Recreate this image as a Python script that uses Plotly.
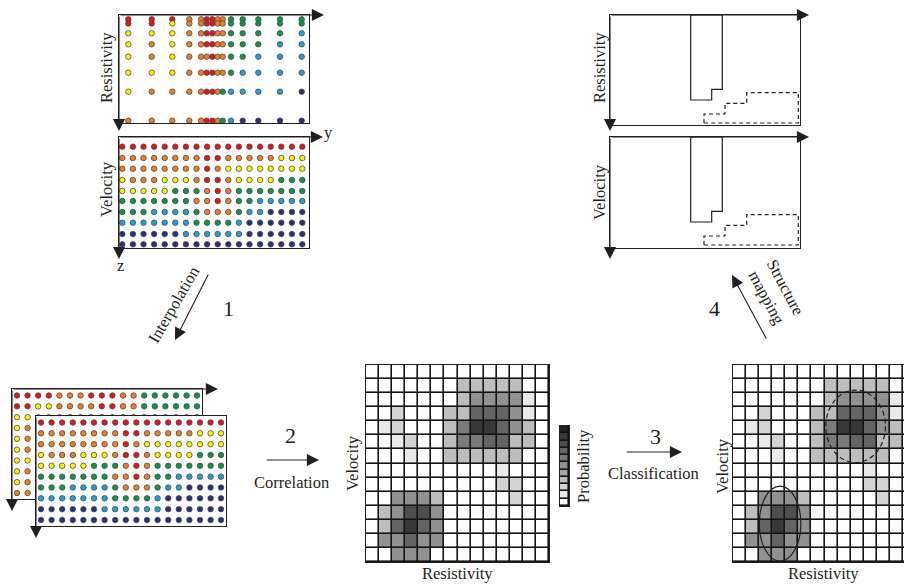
import plotly.graph_objects as go

W, H = 904, 584

# ---------------- data ----------------
CLASS_COLORS = {'R': '#e3141c', 'O': '#f07e1f', 'Y': '#fff200',
                'G': '#0d9648', 'B': '#1ea0dc', 'N': '#2b2d80'}

# resistivity soundings: horizontal position (y) and depth (z) of samples
res_sample_pos = [0.93, 3.27, 5.33, 7.03, 8.2, 8.77, 9.33, 9.87, 10.37, 11.2, 12.37, 13.93, 16.1, 18.27]
res_sample_depth = [0.43, 0.85, 1.83, 2.93, 4.17, 5.77, 7.67, 10.57]
res_classes = [
    "RRROORROOGGGGG",
    "RRYOORROOGGGGG",
    "YYYOORROOGGGGB",
    "YOYOORROOGGGBB",
    "YOYOOOROOGGBBB",
    "YYYOORROOGBBBB",
    "YOOOORROGBBBBN",
    "OOOOORROGBNNNN",
]

# velocity model grid
vel_grid_pos = [0.33, 1.39, 2.45, 3.51, 4.57, 5.63, 6.69, 7.75, 8.81,
                9.87, 10.93, 11.99, 13.05, 14.11, 15.17, 16.23, 17.29, 18.33]
vel_grid_depth = [0.97, 2.1, 3.17, 4.3, 5.4, 6.4, 7.5, 8.57, 9.7, 10.73]
vel_classes = [
    "RRRRRRRRRRRRRRRRRR",
    "OOOOOOOORROOOOOYYY",
    "OOOOOOOOROYYYYYYYY",
    "YOOOYYYORROYYYYGGG",
    "YYYYYGGGOROGGGGGGG",
    "GGGGGGGOOROGGBBBBB",
    "GGGBBBBGOOOGBBNNNN",
    "BBBBBBBGGGGBNNNNNN",
    "NNNNNNBBBBBBNNNNNN",
    "NNNNNNNNNNNNNNNNNN",
]
# resistivity interpolated onto the velocity grid
interp_depth = [1.0, 2.08, 3.17, 4.25, 5.33, 6.42, 7.5, 8.58, 9.67, 10.75]
res_interp_classes = [
    "RRRROOORRROOGGGGGG",
    "RRYYOOOORROOGGGGGG",
    "YYYYOOOORROOGGGGGB",
    "YOYOOOORRROOGGGBBB",
    "YOYOOOOORROOGGBBBB",
    "YOYOOOORRROOGBBBBB",
    "YYYOOOORRROGBBBBBB",
    "YOOOOOORRRGBBBBBBN",
    "YOOOOOORRGGBBBNNNN",
    "OOOOOOORRGBBNNNNNN",
]

# joint probability (rows: velocity bins top->bottom, cols: resistivity bins)
res_bins = list(range(14))
vel_bins = list(range(14))
prob_matrix = [
    [0, 0, 0, 0, 0, 0, 0, 0, 0, 0, 0, 0, 0, 0],
    [0, 0, 0, 0, 0, 0, 0, 3, 3, 3, 3, 3, 0, 0],
    [0, 0, 0, 0, 0, 0, 0, 3, 5, 5, 5, 5, 1, 0],
    [0, 0, 2, 0, 0, 0, 3, 3, 7, 7, 7, 5, 1, 0],
    [0, 1, 2, 0, 0, 0, 3, 6, 9, 9, 7, 5, 3, 0],
    [0, 0, 1, 2, 0, 0, 3, 6, 6, 7, 7, 3, 3, 0],
    [0, 0, 0, 1, 0, 0, 3, 3, 3, 3, 3, 3, 0, 0],
    [0, 0, 0, 0, 0, 0, 0, 0, 0, 0, 1, 0, 0, 0],
    [0, 0, 0, 0, 0, 0, 0, 0, 0, 0, 2, 2, 0, 0],
    [0, 0, 5, 5, 5, 3, 0, 0, 0, 0, 0, 2, 0, 0],
    [0, 3, 5, 8, 8, 5, 0, 0, 0, 0, 0, 0, 0, 0],
    [0, 3, 7, 9, 7, 5, 0, 0, 0, 0, 0, 0, 0, 0],
    [0, 5, 5, 7, 5, 5, 0, 0, 0, 0, 0, 0, 0, 0],
    [0, 0, 5, 5, 5, 0, 0, 0, 0, 0, 0, 0, 0, 0],
]
prob_levels = [10, 9, 8, 7, 6, 5, 4, 3, 2, 1, 0]

# classified clusters (centre and half-width in bin units)
cluster_res_center = [8.88, 3.1]
cluster_vel_center = [3.86, 10.77]
cluster_res_half = [2.28, 1.59]
cluster_vel_half = [2.58, 2.66]
cluster_dash = ['5px,3px', 'solid']

# mapped structures (horizontal position, depth)
body1_pos = [8.07, 11.23, 11.23, 10.17, 10.17, 8.07, 8.07]
body1_depth = [0, 0, 7.43, 7.43, 8.5, 8.5, 0]
body2_pos = [9.4, 9.4, 11.5, 11.5, 13.67, 13.67, 18.83, 18.83, 9.4]
body2_depth = [10.8, 9.9, 9.9, 8.83, 8.83, 7.77, 7.77, 10.8, 10.8]

# ---------------- figure ----------------
INK = '#231f20'
FONT = 'Liberation Serif'
fig = go.Figure()


def dom(x0, x1, y0, y1):
    return [x0 / W, min(x1 / W, 1)], [1 - y1 / H, 1 - y0 / H]


axes = {}


def add_axes(i, box, xr, yr):
    xd, yd = dom(*box)
    sx = '' if i == 1 else str(i)
    common = dict(showline=True, mirror=True, linecolor=INK, linewidth=1.3,
                  showgrid=False, zeroline=False, showticklabels=False,
                  ticks='', fixedrange=True)
    axes['xaxis' + sx] = dict(domain=xd, range=xr, anchor='y' + sx, **common)
    axes['yaxis' + sx] = dict(domain=yd, range=yr, anchor='x' + sx, **common)
    return 'x' + sx, 'y' + sx


def dots(pos, depth, classes, xa, ya):
    xs, ys, cs = [], [], []
    for d, row in zip(depth, classes):
        for p, c in zip(pos, row):
            xs.append(p)
            ys.append(d)
            cs.append(CLASS_COLORS[c])
    fig.add_trace(go.Scatter(x=xs, y=ys, mode='markers', xaxis=xa, yaxis=ya,
                             marker=dict(size=5.5, color=cs,
                                         line=dict(color='#4a4a4a', width=0.8)),
                             hoverinfo='skip', showlegend=False))


# 1 resistivity soundings
xa, ya = add_axes(1, (119, 309, 15, 123), [0, 19], [10.8, 0])
dots(res_sample_pos, res_sample_depth, res_classes, xa, ya)
# 2 velocity model
xa, ya = add_axes(2, (119, 309, 137, 248), [0, 19], [11.1, 0])
dots(vel_grid_pos, vel_grid_depth, vel_classes, xa, ya)
# 3 interpolated resistivity (back)
xr_i = [vel_grid_pos[0] - 0.5, vel_grid_pos[0] + 18.5]
yr_i = [11.35, 0.35]
xa, ya = add_axes(3, (12, 202, 389, 499), xr_i, yr_i)
dots(vel_grid_pos, interp_depth, res_interp_classes, xa, ya)
# 4 interpolated velocity (front)
xa, ya = add_axes(4, (36, 226, 416, 526), xr_i, yr_i)
fig.add_trace(go.Scatter(x=[xr_i[0], xr_i[1], xr_i[1], xr_i[0], xr_i[0]],
                         y=[yr_i[1], yr_i[1], yr_i[0], yr_i[0], yr_i[1]],
                         fill='toself', fillcolor='white', mode='lines',
                         line=dict(width=0), xaxis=xa, yaxis=ya,
                         hoverinfo='skip', showlegend=False))
dots(vel_grid_pos, interp_depth, vel_classes, xa, ya)

# 5 correlation matrix
grayscale = [[0, '#ffffff'], [1, '#222222']]
GAP = 1.6
shapes = []
xa, ya = add_axes(5, (366, 549, 365, 562), [-0.5, 13.5], [13.5, -0.5])
fig.add_trace(go.Heatmap(z=prob_matrix, x=res_bins, y=vel_bins, colorscale=grayscale,
                         zmin=0, zmax=10, showscale=False, xgap=GAP, ygap=GAP,
                         hoverinfo='skip', xaxis=xa, yaxis=ya))
shapes.append(dict(type='rect', xref=xa + ' domain', yref=ya + ' domain', x0=0, x1=1,
                   y0=0, y1=1, fillcolor='#141414', line=dict(width=0), layer='below'))
# 6 probability bar
xa, ya = add_axes(6, (560, 569, 426, 506), [-0.5, 0.5], [10.5, -0.5])
fig.add_trace(go.Heatmap(z=[[v] for v in prob_levels], x=[0], y=list(range(len(prob_levels))),
                         colorscale=grayscale, zmin=0, zmax=10, showscale=False,
                         xgap=GAP, ygap=GAP, hoverinfo='skip', xaxis=xa, yaxis=ya))
shapes.append(dict(type='rect', xref=xa + ' domain', yref=ya + ' domain', x0=0, x1=1,
                   y0=0, y1=1, fillcolor='#141414', line=dict(width=0), layer='below'))
# 7 classified matrix (cut by the page edge)
xa, ya = add_axes(7, (733, 904, 365, 562), [-0.5, 12.58], [13.5, -0.5])
fig.add_trace(go.Heatmap(z=prob_matrix, x=res_bins, y=vel_bins, colorscale=grayscale,
                         zmin=0, zmax=10, showscale=False, xgap=GAP, ygap=GAP,
                         hoverinfo='skip', xaxis=xa, yaxis=ya))
shapes.append(dict(type='rect', xref=xa + ' domain', yref=ya + ' domain', x0=0, x1=1,
                   y0=0, y1=1, fillcolor='#141414', line=dict(width=0), layer='below'))
for cx, cy, hx, hy, dsh in zip(cluster_res_center, cluster_vel_center,
                               cluster_res_half, cluster_vel_half, cluster_dash):
    shapes.append(dict(type='circle', xref=xa, yref=ya, x0=cx - hx, x1=cx + hx,
                       y0=cy - hy, y1=cy + hy, line=dict(color=INK, width=1.2, dash=dsh),
                       layer='above'))

# 8, 9 structure maps
for i, box, yr in [(8, (610, 800, 15, 125), [11, 0]), (9, (610, 800, 137, 248), [11.1, 0])]:
    xa, ya = add_axes(i, box, [0, 19], yr)
    fig.add_trace(go.Scatter(x=body1_pos, y=body1_depth, mode='lines', xaxis=xa, yaxis=ya,
                             line=dict(color=INK, width=1.2), hoverinfo='skip', showlegend=False))
    fig.add_trace(go.Scatter(x=body2_pos, y=body2_depth, mode='lines', xaxis=xa, yaxis=ya,
                             line=dict(color=INK, width=1.2, dash='4px,3px'),
                             hoverinfo='skip', showlegend=False))

# ---------------- annotations ----------------
ann = []


def arrow(hx, hy, tx, ty):
    ann.append(dict(x=hx / W, y=1 - hy / H, xref='paper', yref='paper', text='',
                    showarrow=True, ax=tx - hx, ay=ty - hy, axref='pixel', ayref='pixel',
                    arrowhead=2, arrowsize=2.2, arrowwidth=1.1, arrowcolor=INK, standoff=0))


def label(x, y, s, size=16.5, angle=0):
    ann.append(dict(x=x / W, y=1 - y / H, xref='paper', yref='paper', text=s,
                    showarrow=False, textangle=angle, xanchor='center', yanchor='middle',
                    font=dict(family=FONT, size=size, color=INK)))


# axis arrows
arrow(324, 15, 119, 15); arrow(119, 131, 119, 15)
arrow(323, 137, 119, 137); arrow(119, 259, 119, 137)
arrow(218, 389, 12, 389); arrow(12, 511, 12, 389)
arrow(36, 538, 36, 416)
arrow(809, 15, 610, 15); arrow(610, 131, 610, 15)
arrow(809, 137, 610, 137); arrow(610, 259, 610, 137)
# workflow arrows
arrow(175, 340, 209, 273)
arrow(319, 460, 265, 460)
arrow(682, 452, 625, 452)
arrow(732, 275, 767, 340)

label(106, 68, 'Resistivity', angle=-90)
label(106, 189, 'Velocity', angle=-90)
label(328, 133, 'y')
label(120, 266, 'z')
label(173, 305, 'Interpolation', angle=-60)
label(228, 309, '1', 22)
label(290, 435, '2', 22)
label(291, 482, 'Correlation')
label(352, 463, 'Velocity', angle=-90)
label(457, 573, 'Resistivity')
label(583, 466, 'Probability', angle=-90)
label(655, 436, '3', 22)
label(653, 473, 'Classification')
label(722, 466, 'Velocity', angle=-90)
label(823, 573, 'Resistivity')
label(714, 308, '4', 22)
label(776, 292, 'Structure<br>mapping', angle=62)
label(599, 68, 'Resistivity', angle=-90)
label(599, 192, 'Velocity', angle=-90)

fig.update_layout(width=W, height=H, margin=dict(l=0, r=0, t=0, b=0),
                  paper_bgcolor='white', plot_bgcolor='white',
                  showlegend=False, shapes=shapes, annotations=ann, **axes)

fig.write_html('out.html', config={'displayModeBar': False})
